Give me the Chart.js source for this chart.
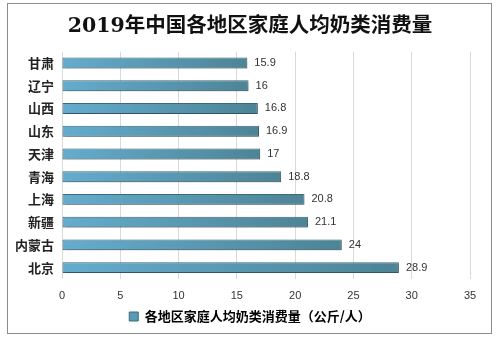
<!DOCTYPE html>
<html>
<head>
<meta charset="utf-8">
<script src="https://cdn.jsdelivr.net/npm/chart.js@4.4.1/dist/chart.umd.min.js"></script>
<style>
  html, body { margin: 0; padding: 0; background: #fff; }
  #wrap { position: relative; width: 496px; height: 338px; }
</style>
</head>
<body>
<div id="wrap"><canvas id="milkChart" width="496" height="338"></canvas></div>
<script>
// Per-capita household dairy consumption by region, 2019 (kg / person)
const regions = ['甘肃', '辽宁', '山西', '山东', '天津', '青海', '上海', '新疆', '内蒙古', '北京'];
const milkKg = [15.9, 16, 16.8, 16.9, 17, 18.8, 20.8, 21.1, 24, 28.9];
const xTicks = [0, 5, 10, 15, 20, 25, 30, 35];
const seriesName = '各地区家庭人均奶类消费量（公斤/人）';

const LIGHT = '#64acce';
const DARK = '#4d8496';

// bar fill: light on the left, darker toward the bar's end
function barGradient(context) {
    const chart = context.chart;
    const x = chart.scales.x;
    if (!chart.chartArea || !x || context.dataIndex === undefined) return LIGHT;
    const v = context.dataset.data[context.dataIndex];
    const x0 = x.getPixelForValue(0);
    const x1 = x.getPixelForValue(v);
    if (!isFinite(x0) || !isFinite(x1) || x1 <= x0) return LIGHT;
    const g = chart.ctx.createLinearGradient(x0, 0, x1, 0);
    g.addColorStop(0, LIGHT);
    g.addColorStop(1, DARK);
    return g;
}

// outer frame of the chart
const framePlugin = {
    id: 'frame',
    beforeDraw(chart) {
        const ctx = chart.ctx;
        ctx.save();
        ctx.fillStyle = '#fff';
        ctx.fillRect(0, 0, chart.width, chart.height);
        ctx.strokeStyle = '#8c8c8c';
        ctx.lineWidth = 1;
        ctx.strokeRect(7.5, 3.5, 484, 330);
        ctx.restore();
    }
};

// title and legend sit centred on the whole frame, not on the padded box
const centreOnFrame = {
    id: 'centreOnFrame',
    afterLayout(chart) {
        [chart.titleBlock, chart.legend].forEach(box => {
            if (!box) return;
            const shift = (chart.width / 2) - (box.left + box.right) / 2 + 2;
            box.left += shift;
            box.right += shift;
        });
    }
};

// soft drop shadow under the bars
const shadowPlugin = {
    id: 'barShadow',
    beforeDatasetDraw(chart) {
        const ctx = chart.ctx;
        ctx.save();
        ctx.shadowColor = 'rgba(0,0,0,0.28)';
        ctx.shadowBlur = 3;
        ctx.shadowOffsetX = 1;
        ctx.shadowOffsetY = 2;
    },
    afterDatasetDraw(chart) {
        chart.ctx.restore();
    }
};

// value printed right of each bar
const valueLabels = {
    id: 'valueLabels',
    afterDatasetsDraw(chart) {
        const ctx = chart.ctx;
        const meta = chart.getDatasetMeta(0);
        ctx.save();
        ctx.font = '11px "Liberation Sans", Arial, sans-serif';
        ctx.fillStyle = '#333';
        ctx.textAlign = 'left';
        ctx.textBaseline = 'middle';
        meta.data.forEach((bar, i) => {
            ctx.fillText(String(milkKg[i]), bar.x + 7, bar.y);
        });
        ctx.restore();
    }
};

new Chart(document.getElementById('milkChart'), {
    type: 'bar',
    data: {
        labels: regions,
        datasets: [{
            label: seriesName,
            data: milkKg,
            backgroundColor: barGradient,
            borderColor: '#3e6a78',
            borderWidth: 1,
            borderSkipped: false,
            categoryPercentage: 1,
            barPercentage: 0.48
        }]
    },
    options: {
        indexAxis: 'y',
        responsive: false,
        animation: false,
        events: [],
        layout: { padding: { left: 7, right: 26, top: 4, bottom: 5 } },
        plugins: {
            title: {
                display: true,
                text: '2019年中国各地区家庭人均奶类消费量',
                color: '#111',
                font: { size: 20.5, weight: 'bold', family: '"DejaVu Serif", "Noto Sans CJK SC", serif' },
                padding: { top: 10, bottom: 13 }
            },
            legend: {
                position: 'bottom',
                labels: {
                    color: '#333',
                    boxWidth: 9,
                    boxHeight: 9,
                    padding: 5,
                    font: { size: 13, weight: 'bold', family: '"Noto Sans CJK SC", sans-serif' },
                    generateLabels() {
                        return [{
                            text: seriesName,
                            fillStyle: '#5a9ab4',
                            strokeStyle: '#3e6a78',
                            lineWidth: 1,
                            datasetIndex: 0
                        }];
                    }
                }
            },
            tooltip: { enabled: false }
        },
        scales: {
            x: {
                min: 0,
                max: 35,
                afterBuildTicks(axis) {
                    axis.ticks = xTicks.map(v => ({ value: v }));
                },
                afterFit(axis) {
                    axis.height = 26;
                },
                grid: { color: '#d9d9d9', drawTicks: false },
                border: { display: false },
                ticks: {
                    color: '#333',
                    padding: 10,
                    font: { size: 11, family: '"Liberation Sans", Arial, sans-serif' }
                }
            },
            y: {
                grid: { display: false, drawTicks: false },
                border: { display: false },
                ticks: {
                    color: '#222',
                    padding: 8,
                    font: { size: 13, weight: 'bold', family: '"Noto Sans CJK SC", sans-serif' }
                }
            }
        }
    },
    plugins: [framePlugin, centreOnFrame, shadowPlugin, valueLabels]
});
</script>
</body>
</html>
